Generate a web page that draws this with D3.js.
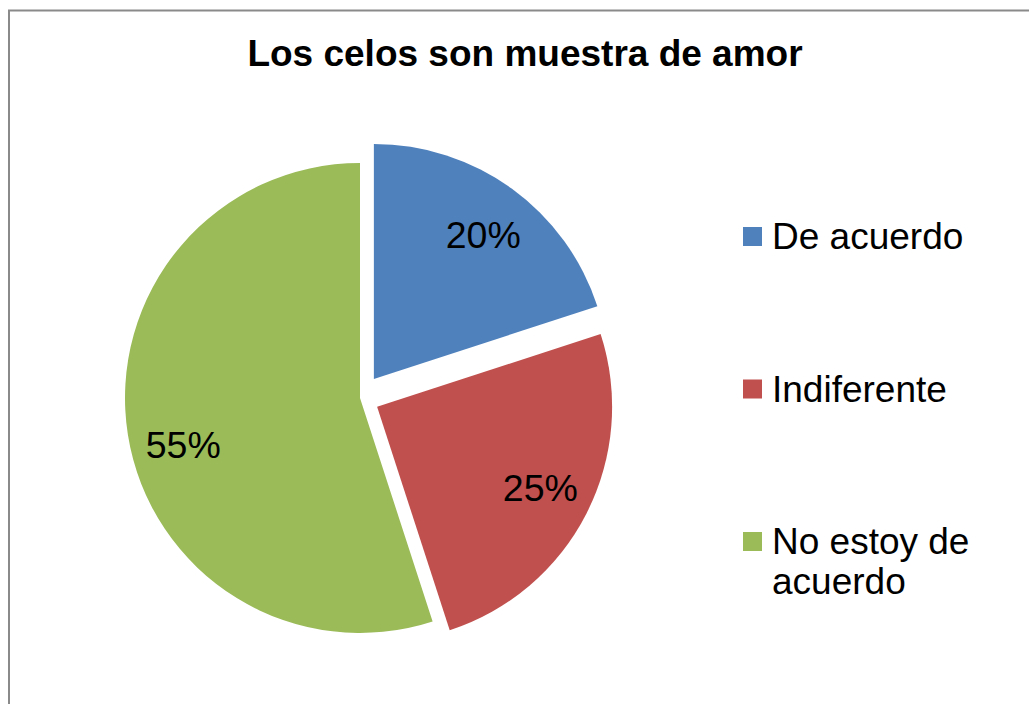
<!DOCTYPE html>
<html>
<head>
<meta charset="utf-8">
<script src="https://cdn.jsdelivr.net/npm/d3@7"></script>
<style>
html, body { margin: 0; padding: 0; background: #fff; }
svg { display: block; }
text { font-family: "Liberation Sans", Arial, sans-serif; }
</style>
</head>
<body>
<svg id="chart" width="1029" height="704"></svg>
<script>
const title = "Los celos son muestra de amor";
const categories = ["De acuerdo", "Indiferente", "No estoy de acuerdo"];
const values = [20, 25, 55];
const valueLabels = ["20%", "25%", "55%"];
const legendLines = [["De acuerdo"], ["Indiferente"], ["No estoy de", "acuerdo"]];
const colors = ["#4F81BD", "#C0504D", "#9BBB59"];
const explode = [23.6, 19.2, 0];
const labelNudge = [[3, 2], [2, -1], [2, 19]];

const svg = d3.select("#chart");
const W = 1029, H = 704;

svg.append("rect").attr("x", 0).attr("y", 0).attr("width", W).attr("height", H).attr("fill", "#fff");
// chart border (right and bottom edges out of view)
svg.append("rect")
  .attr("x", 9).attr("y", 10.5).attr("width", W + 40).attr("height", H + 40)
  .attr("fill", "none").attr("stroke", "#8a8a8a").attr("stroke-width", 2);

svg.append("text")
  .attr("x", 525).attr("y", 66)
  .attr("text-anchor", "middle")
  .attr("font-weight", "bold").attr("font-size", 37)
  .attr("fill", "#000")
  .text(title);

const cx = 360, cy = 398, r = 235;
const pie = d3.pie().sort(null).value(d => d)(values);
const arc = d3.arc().innerRadius(0).outerRadius(r);
const labelArc = d3.arc().innerRadius(181).outerRadius(181);

const g = svg.append("g").attr("transform", `translate(${cx},${cy})`);
const slices = g.selectAll("g.slice").data(pie).enter().append("g")
  .attr("class", "slice")
  .attr("transform", (d, i) => {
    const a = (d.startAngle + d.endAngle) / 2;
    return `translate(${Math.sin(a) * explode[i]},${-Math.cos(a) * explode[i]})`;
  });
slices.append("path").attr("d", arc).attr("fill", (d, i) => colors[i]);
slices.append("text")
  .attr("transform", (d, i) => {
    const [x, y] = labelArc.centroid(d);
    return `translate(${x + labelNudge[i][0]},${y + labelNudge[i][1]})`;
  })
  .attr("text-anchor", "middle")
  .attr("dy", "0.35em")
  .attr("font-size", 37.5)
  .attr("fill", "#000")
  .text((d, i) => valueLabels[i]);

// legend
const legendY = [236.5, 389, 541.5];
const leg = svg.append("g");
categories.forEach((c, i) => {
  leg.append("rect")
    .attr("x", 743).attr("y", legendY[i] - 9.5)
    .attr("width", 19).attr("height", 19)
    .attr("fill", colors[i]);
  const t = leg.append("text")
    .attr("x", 772).attr("y", legendY[i] + 12.5)
    .attr("font-size", 37).attr("fill", "#000");
  legendLines[i].forEach((ln, j) => {
    t.append("tspan").attr("x", 772).attr("dy", j === 0 ? 0 : 40).text(ln);
  });
});
</script>
</body>
</html>
